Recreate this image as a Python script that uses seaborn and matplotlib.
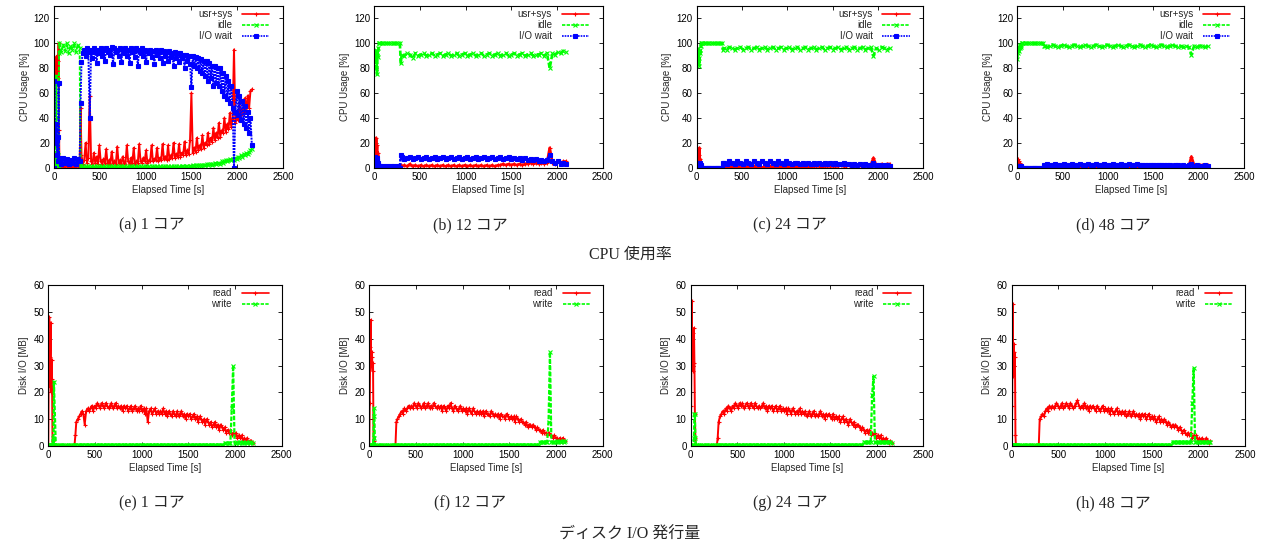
import matplotlib
matplotlib.use("Agg")
import matplotlib.pyplot as plt
import seaborn as sns

# ---------------- data ----------------
TIMES_START = [0, 5, 10, 15, 20, 25, 30, 35, 40, 45, 50, 55,
               60, 80, 100, 120, 140, 160, 180, 200, 220, 240, 260, 280,
               290]
# 30 s sampling for the flat series
TIMES_RUN = [300, 330, 360, 390, 420, 450, 480, 510, 540, 570,
             600, 630, 660, 690, 720, 750, 780, 810, 840, 870,
             900, 930, 960, 990, 1020, 1050, 1080, 1110, 1140, 1170,
             1200, 1230, 1260, 1290, 1320, 1350, 1380, 1410, 1440, 1470,
             1500, 1530, 1560, 1590, 1620, 1650, 1680, 1710, 1740, 1770,
             1800, 1830, 1860, 1890, 1920, 1950, 1980, 2010, 2040, 2070,
             2100, 2130, 2160, 2190]
# 15 s sampling for the noisy series
TIMES_RUN_FINE = [300, 315, 330, 345, 360, 375, 390, 405, 420, 435,
                  450, 465, 480, 495, 510, 525, 540, 555, 570, 585,
                  600, 615, 630, 645, 660, 675, 690, 705, 720, 735,
                  750, 765, 780, 795, 810, 825, 840, 855, 870, 885,
                  900, 915, 930, 945, 960, 975, 990, 1005, 1020, 1035,
                  1050, 1065, 1080, 1095, 1110, 1125, 1140, 1155, 1170, 1185,
                  1200, 1215, 1230, 1245, 1260, 1275, 1290, 1305, 1320, 1335,
                  1350, 1365, 1380, 1395, 1410, 1425, 1440, 1455, 1470, 1485,
                  1500, 1515, 1530, 1545, 1560, 1575, 1590, 1605, 1620, 1635,
                  1650, 1665, 1680, 1695, 1710, 1725, 1740, 1755, 1770, 1785,
                  1800, 1815, 1830, 1845, 1860, 1875, 1890, 1905, 1920, 1935,
                  1950, 1965, 1980, 1995, 2010, 2025, 2040, 2055, 2070, 2085,
                  2100, 2115, 2130, 2145, 2160, 2175, 2190]
TIMES = TIMES_START + TIMES_RUN
TIMES_FINE = TIMES_START + TIMES_RUN_FINE

# (a) 1 core  (fine grid)
A_USR = [0, 75, 88, 70, 85, 68, 90, 80, 86, 72, 100, 30,
         1, 0, 1, 0, 1, 0, 1, 0, 1, 0, 1, 0,
         48,
         10, 3, 6, 20, 4, 8, 58, 5, 3, 12,
         4, 9, 3, 18, 5, 3, 7, 4, 15, 3,
         6, 3, 13, 4, 5, 3, 17, 4, 6, 3,
         9, 4, 3, 18, 5, 3, 8, 4, 16, 3,
         5, 4, 19, 5, 4, 8, 5, 14, 4, 6,
         5, 18, 5, 7, 6, 16, 5, 8, 6, 19,
         7, 9, 6, 18, 7, 10, 8, 20, 8, 11,
         9, 19, 9, 12, 10, 21, 10, 14, 11, 22,
         60, 12, 16, 13, 24, 14, 18, 15, 26, 16,
         20, 18, 28, 19, 24, 21, 32, 22, 28, 24,
         36, 25, 30, 28, 40, 29, 35, 31, 44, 33,
         40, 95, 36, 44, 38, 52, 42, 48, 44, 56,
         45, 58, 48, 62, 63]
A_IDLE = [0, 5, 2, 8, 3, 74, 6, 2, 4, 10, 0, 92,
          100, 93, 99, 94, 100, 92, 98, 95, 100, 93, 99, 96,
          2,
          0, 1, 0, 1, 0, 1, 0, 1, 0, 1,
          0, 1, 0, 1, 0, 1, 0, 1, 0, 1,
          0, 1, 0, 1, 0, 1, 0, 1, 0, 1,
          0, 1, 0, 1, 0, 1, 0, 1, 0, 1,
          0, 1, 0, 1, 0, 1, 0, 1, 0, 1,
          0, 1, 0, 1, 0, 1, 0, 1, 0, 1,
          0, 1, 0, 1, 0, 1, 0, 1, 0, 1,
          0, 1, 0, 1, 1, 0, 1, 1, 0, 1,
          1, 2, 1, 2, 1, 2, 2, 1, 2, 2,
          2, 3, 2, 3, 3, 2, 3, 4, 3, 4,
          4, 3, 5, 4, 5, 6, 5, 6, 7, 6,
          7, 6, 8, 7, 9, 8, 10, 9, 11, 10,
          12, 11, 13, 14, 15]
A_IOWAIT = [0, 70, 30, 25, 20, 35, 22, 10, 25, 5, 68, 8,
            5, 3, 8, 4, 7, 3, 6, 4, 8, 3, 7, 5,
            52,
            85, 92, 95, 90, 96, 93, 40, 95, 88, 96,
            93, 84, 95, 92, 96, 90, 95, 86, 96, 93,
            95, 91, 97, 83, 96, 93, 95, 90, 96, 85,
            95, 92, 96, 90, 95, 84, 96, 93, 95, 89,
            96, 82, 95, 92, 96, 90, 95, 85, 94, 92,
            95, 89, 94, 83, 95, 91, 94, 88, 95, 84,
            94, 90, 93, 86, 94, 89, 92, 82, 93, 88,
            92, 85, 92, 88, 91, 80, 91, 86, 90, 83,
            65, 90, 82, 89, 80, 88, 78, 87, 76, 86,
            74, 86, 70, 84, 72, 82, 66, 82, 68, 80,
            66, 80, 62, 76, 58, 74, 55, 70, 52, 66,
            48, 0, 45, 62, 42, 58, 38, 54, 35, 50,
            32, 45, 28, 40, 18]

# (b) 12 cores
B_USR = [0, 8, 15, 5, 24, 10, 18, 6, 12, 3, 1, 0,
         0, 0, 0, 0, 0, 0, 0, 0, 0, 0, 0, 0,
         2,
         1, 2, 1, 3, 1, 2, 1, 2, 1, 2,
         1, 2, 1, 2, 1, 2, 1, 2, 1, 2,
         1, 2, 1, 2, 1, 2, 1, 2, 1, 2,
         1, 2, 1, 2, 1, 2, 2, 3, 2, 3,
         2, 3, 2, 3, 2, 3, 3, 4, 3, 4,
         3, 4, 3, 4, 16, 4, 3, 5, 4, 5,
         5]
B_IDLE = [86, 92, 88, 95, 80, 90, 75, 93, 89, 96, 100, 100,
          100, 100, 100, 100, 100, 100, 100, 100, 100, 100, 100, 100,
          84,
          91, 90, 92, 91, 88, 92, 90, 91, 92, 90,
          91, 92, 90, 91, 92, 90, 91, 92, 90, 91,
          92, 90, 91, 92, 90, 91, 92, 90, 91, 92,
          90, 91, 92, 90, 91, 92, 90, 91, 92, 90,
          91, 92, 90, 91, 92, 90, 91, 92, 90, 91,
          91, 92, 90, 92, 80, 92, 91, 93, 92, 94,
          93]
B_IOWAIT = [0, 9, 4, 6, 2, 8, 3, 5, 2, 4, 1, 0,
            1, 0, 1, 0, 1, 0, 1, 0, 1, 0, 1, 0,
            10,
            9, 7, 8, 9, 7, 8, 9, 7, 8, 9,
            7, 8, 9, 7, 8, 9, 7, 8, 9, 7,
            8, 9, 7, 8, 9, 7, 8, 9, 7, 8,
            9, 7, 8, 9, 7, 8, 9, 7, 8, 9,
            7, 8, 7, 8, 6, 8, 6, 7, 6, 7,
            5, 6, 5, 6, 10, 5, 4, 5, 3, 4,
            3]

# (c) 24 cores
C_USR = [0, 5, 8, 3, 10, 6, 16, 4, 7, 2, 1, 0,
         0, 0, 0, 0, 0, 0, 0, 0, 0, 0, 0, 0,
         1,
         0, 1, 0, 1, 0, 1, 0, 1, 0, 1,
         0, 1, 0, 1, 0, 1, 0, 1, 0, 1,
         0, 1, 0, 1, 0, 1, 0, 1, 0, 1,
         0, 1, 0, 1, 1, 1, 0, 1, 1, 1,
         1, 1, 1, 2, 1, 1, 2, 1, 2, 1,
         2, 1, 2, 2, 2, 8, 2, 2, 3, 2,
         3, 3]
C_IDLE = [95, 87, 96, 90, 94, 88, 82, 95, 92, 98, 100, 100,
          100, 100, 100, 100, 100, 100, 100, 100, 100, 100, 100, 100,
          95,
          96, 95, 97, 96, 95, 96, 97, 95, 96, 97,
          95, 96, 97, 95, 96, 97, 95, 96, 97, 95,
          96, 97, 95, 96, 97, 95, 96, 97, 95, 96,
          97, 95, 96, 97, 95, 96, 97, 95, 96, 97,
          95, 96, 97, 95, 96, 97, 95, 96, 97, 95,
          96, 97, 95, 96, 97, 90, 96, 95, 97, 96,
          95, 96]
C_IOWAIT = [0, 4, 2, 3, 1, 3, 2, 4, 1, 2, 0, 0,
            0, 0, 0, 0, 0, 0, 0, 0, 0, 0, 0, 0,
            4,
            4, 3, 5, 4, 3, 5, 4, 3, 5, 4,
            3, 5, 4, 3, 5, 4, 3, 5, 4, 3,
            5, 4, 3, 5, 4, 3, 4, 4, 3, 4,
            3, 4, 3, 4, 3, 4, 3, 4, 3, 4,
            3, 4, 3, 3, 4, 3, 3, 2, 3, 2,
            3, 2, 3, 2, 2, 4, 2, 2, 1, 2,
            2, 1]

# (d) 48 cores
D_USR = [0, 7, 3, 5, 2, 4, 1, 3, 1, 2, 0, 0,
         0, 0, 0, 0, 0, 0, 0, 0, 0, 0, 0, 0,
         1,
         0, 1, 0, 0, 1, 0, 0, 1, 0, 0,
         1, 0, 0, 1, 0, 0, 1, 0, 0, 1,
         0, 0, 1, 0, 0, 1, 0, 0, 1, 0,
         0, 1, 0, 0, 1, 0, 0, 1, 0, 0,
         1, 0, 1, 0, 1, 0, 1, 1, 0, 1,
         1, 1, 1, 1, 9, 2, 2, 2, 2, 2,
         2]
D_IDLE = [87, 95, 92, 97, 94, 98, 96, 99, 97, 99, 100, 100,
          100, 100, 100, 100, 100, 100, 100, 100, 100, 100, 100, 100,
          98,
          98, 97, 98, 99, 98, 97, 98, 99, 98, 97,
          98, 99, 98, 97, 98, 99, 98, 97, 98, 99,
          98, 97, 98, 99, 98, 97, 98, 99, 98, 97,
          98, 99, 98, 97, 98, 99, 98, 97, 98, 99,
          98, 97, 98, 99, 98, 97, 98, 99, 98, 97,
          98, 97, 98, 97, 91, 98, 97, 98, 98, 97,
          98]
D_IOWAIT = [0, 1, 0, 1, 0, 1, 0, 1, 0, 1, 0, 0,
            0, 0, 0, 0, 0, 0, 0, 0, 0, 0, 0, 0,
            2,
            2, 3, 2, 2, 3, 2, 2, 3, 2, 2,
            3, 2, 2, 3, 2, 2, 3, 2, 2, 3,
            2, 2, 3, 2, 2, 3, 2, 2, 3, 2,
            2, 3, 2, 2, 3, 2, 2, 2, 2, 2,
            2, 2, 2, 2, 2, 2, 2, 1, 2, 2,
            1, 2, 1, 2, 3, 1, 2, 1, 1, 2,
            1]

# (e) 1 core disk  (fine grid)
E_READ = [0, 30, 48, 22, 33, 46, 20, 32, 25, 2, 0, 0,
          0, 0, 0, 0, 0, 0, 0, 0, 0, 0, 0, 0,
          4,
          9, 10, 11, 12, 13, 12, 8, 13, 14, 13,
          14, 15, 13, 15, 14, 16, 15, 14, 16, 15,
          14, 16, 15, 14, 15, 16, 14, 15, 16, 14,
          15, 14, 15, 13, 15, 14, 15, 13, 14, 15,
          13, 14, 15, 13, 14, 13, 15, 13, 14, 12,
          14, 9, 13, 14, 12, 13, 14, 12, 13, 12,
          13, 12, 14, 12, 13, 11, 13, 12, 11, 13,
          12, 11, 13, 11, 12, 13, 11, 12, 10, 12,
          11, 12, 10, 11, 12, 10, 11, 9, 11, 10,
          9, 10, 8, 10, 9, 8, 9, 7, 8, 9,
          7, 8, 6, 8, 7, 6, 7, 5, 6, 5,
          6, 4, 5, 4, 5, 3, 4, 3, 4, 2,
          3, 2, 3, 1, 2, 2, 1]
E_WRITE = [0, 0.5, 0.5, 0.5, 0.5, 0.5, 0.5, 0.5, 0.5, 0.5, 3, 0.5,
           24, 0.5, 0.5, 0.5, 0.5, 0.5, 0.5, 0.5, 0.5, 0.5, 0.5, 0.5,
           0.5,
           0.5, 0.5, 0.5, 0.5, 0.5, 0.5, 0.5, 0.5, 0.5, 0.5,
           0.5, 0.5, 0.5, 0.5, 0.5, 0.5, 0.5, 0.5, 0.5, 0.5,
           0.5, 0.5, 0.5, 0.5, 0.5, 0.5, 0.5, 0.5, 0.5, 0.5,
           0.5, 0.5, 0.5, 0.5, 0.5, 0.5, 0.5, 0.5, 0.5, 0.5,
           0.5, 0.5, 0.5, 0.5, 0.5, 0.5, 0.5, 0.5, 0.5, 0.5,
           0.5, 0.5, 0.5, 0.5, 0.5, 0.5, 0.5, 0.5, 0.5, 0.5,
           0.5, 0.5, 0.5, 0.5, 0.5, 0.5, 0.5, 0.5, 0.5, 0.5,
           0.5, 0.5, 0.5, 0.5, 0.5, 0.5, 0.5, 0.5, 0.5, 0.5,
           0.5, 0.5, 0.5, 0.5, 0.5, 0.5, 0.5, 0.5, 0.5, 0.5,
           0.5, 0.5, 0.5, 0.5, 0.5, 0.5, 0.5, 0.5, 0.5, 0.5,
           0.5, 0.5, 0.5, 0.5, 0.5, 0.5, 1, 1, 1, 1,
           1, 14, 30, 1, 1, 1.5, 1, 1.5, 1, 1.5,
           1, 1.5, 1, 1.5, 1, 1.5, 1]

# (f) 12 cores disk
F_READ = [0, 16, 37, 47, 30, 35, 33, 28, 31, 2, 0, 0,
          0, 0, 0, 0, 0, 0, 0, 0, 0, 0, 0, 0,
          9,
          10, 11, 12, 13, 12, 14, 13, 14, 15, 14,
          15, 14, 16, 15, 14, 16, 15, 14, 15, 16,
          14, 15, 16, 14, 15, 14, 16, 15, 14, 15,
          14, 15, 13, 15, 14, 13, 15, 14, 16, 14,
          13, 15, 14, 13, 14, 15, 13, 14, 13, 14,
          12, 14, 13, 12, 14, 13, 12, 13, 12, 13,
          12, 13, 11, 13, 12, 12, 11, 13, 12, 11,
          12, 11, 12, 10, 12, 11, 11, 10, 12, 11,
          10, 11, 10, 11, 9, 11, 10, 9, 10, 9,
          9, 8, 9, 7, 8, 8, 7, 8, 7, 6,
          7, 6, 6, 5, 6, 5, 5, 4, 5, 4,
          4, 3, 4, 3, 3, 2, 3, 2, 3, 2,
          2]
F_WRITE = [0, 0.5, 0.5, 0.5, 0.5, 0.5, 0.5, 0.5, 0.5, 3, 14, 11,
           0.5, 0.5, 0.5, 0.5, 0.5, 0.5, 0.5, 0.5, 0.5, 0.5, 0.5, 0.5,
           0.5,
           0.5, 0.5, 0.5, 0.5, 0.5, 0.5, 0.5, 0.5, 0.5, 0.5,
           0.5, 0.5, 0.5, 0.5, 0.5, 0.5, 0.5, 0.5, 0.5, 0.5,
           0.5, 0.5, 0.5, 0.5, 0.5, 0.5, 0.5, 0.5, 0.5, 0.5,
           0.5, 0.5, 0.5, 0.5, 0.5, 0.5, 0.5, 0.5, 0.5, 0.5,
           0.5, 0.5, 0.5, 0.5, 0.5, 0.5, 0.5, 0.5, 0.5, 0.5,
           0.5, 0.5, 0.5, 0.5, 0.5, 0.5, 0.5, 0.5, 0.5, 0.5,
           0.5, 0.5, 0.5, 0.5, 0.5, 0.5, 0.5, 0.5, 0.5, 0.5,
           0.5, 0.5, 0.5, 0.5, 0.5, 0.5, 0.5, 0.5, 0.5, 0.5,
           0.5, 0.5, 0.5, 0.5, 0.5, 0.5, 0.5, 0.5, 0.5, 0.5,
           0.5, 0.5, 0.5, 0.5, 0.5, 0.5, 0.5, 0.5, 0.5, 0.5,
           0.5, 0.5, 1.5, 1.5, 1.5, 1.5, 1.5, 1.5, 9, 35,
           1.5, 1.5, 1.5, 1.5, 2, 1.5, 2, 1.5, 2, 1.5,
           2]

# (g) 24 cores disk
G_READ = [0, 15, 54, 38, 30, 42, 28, 44, 31, 12, 3, 0,
          0, 0, 0, 0, 0, 0, 0, 0, 0, 0, 0, 0,
          3,
          9, 11, 12, 13, 12, 14, 13, 15, 14, 13,
          15, 14, 16, 15, 14, 16, 15, 16, 14, 15,
          16, 15, 14, 16, 15, 14, 16, 15, 14, 15,
          14, 15, 16, 14, 15, 13, 15, 14, 15, 13,
          14, 15, 13, 14, 15, 13, 14, 13, 14, 12,
          14, 13, 12, 14, 13, 12, 13, 12, 14, 12,
          13, 12, 13, 11, 12, 13, 11, 12, 13, 11,
          12, 11, 12, 13, 11, 12, 10, 12, 11, 12,
          11, 10, 12, 10, 11, 10, 11, 9, 10, 11,
          9, 10, 9, 8, 10, 9, 8, 9, 7, 8,
          8, 7, 6, 7, 6, 5, 6, 5, 6, 4,
          5, 4, 5, 3, 4, 3, 4, 2, 3, 2,
          3, 2, 1, 2, 1]
G_WRITE = [0, 0.5, 0.5, 0.5, 0.5, 0.5, 0.5, 3, 12, 12, 3, 0.5,
           0.5, 0.5, 0.5, 0.5, 0.5, 0.5, 0.5, 0.5, 0.5, 0.5, 0.5, 0.5,
           0.5,
           0.5, 0.5, 0.5, 0.5, 0.5, 0.5, 0.5, 0.5, 0.5, 0.5,
           0.5, 0.5, 0.5, 0.5, 0.5, 0.5, 0.5, 0.5, 0.5, 0.5,
           0.5, 0.5, 0.5, 0.5, 0.5, 0.5, 0.5, 0.5, 0.5, 0.5,
           0.5, 0.5, 0.5, 0.5, 0.5, 0.5, 0.5, 0.5, 0.5, 0.5,
           0.5, 0.5, 0.5, 0.5, 0.5, 0.5, 0.5, 0.5, 0.5, 0.5,
           0.5, 0.5, 0.5, 0.5, 0.5, 0.5, 0.5, 0.5, 0.5, 0.5,
           0.5, 0.5, 0.5, 0.5, 0.5, 0.5, 0.5, 0.5, 0.5, 0.5,
           0.5, 0.5, 0.5, 0.5, 0.5, 0.5, 0.5, 0.5, 0.5, 0.5,
           0.5, 0.5, 0.5, 0.5, 0.5, 0.5, 0.5, 0.5, 0.5, 0.5,
           0.5, 0.5, 0.5, 0.5, 0.5, 0.5, 0.5, 0.5, 0.5, 0.5,
           0.5, 0.5, 0.5, 0.5, 1.5, 1.5, 1.5, 1.5, 1.5, 1.5,
           19, 26, 1.5, 1.5, 1.5, 1.5, 1.5, 1.5, 1.5, 1.5,
           1.5, 1.5, 1.5, 1.5, 1]

# (h) 48 cores disk
H_READ = [0, 15, 53, 26, 38, 30, 35, 33, 4, 0, 0, 0,
          0, 0, 0, 0, 0, 0, 0, 0, 0, 0, 0, 0,
          0,
          10, 11, 12, 11, 13, 14, 13, 15, 14, 15,
          14, 15, 16, 15, 14, 15, 16, 14, 15, 16,
          15, 14, 16, 15, 14, 15, 16, 17, 15, 14,
          15, 14, 16, 14, 15, 13, 15, 14, 15, 14,
          13, 15, 14, 13, 14, 15, 13, 14, 13, 14,
          12, 14, 13, 12, 13, 14, 12, 13, 12, 13,
          12, 13, 11, 12, 13, 11, 12, 13, 11, 12,
          11, 12, 10, 12, 11, 12, 10, 11, 12, 10,
          11, 10, 11, 9, 10, 11, 9, 10, 9, 10,
          9, 8, 9, 8, 7, 8, 7, 8, 7, 6,
          7, 6, 5, 6, 5, 4, 5, 4, 5, 3,
          4, 3, 4, 2, 3, 2, 3, 2, 2, 3,
          2, 1, 2]
H_WRITE = [0, 0.5, 0.5, 0.5, 0.5, 0.5, 0.5, 0.5, 0.5, 0.5, 0.5, 0.5,
           0.5, 0.5, 0.5, 0.5, 0.5, 0.5, 0.5, 0.5, 0.5, 0.5, 0.5, 0.5,
           0.5,
           0.5, 0.5, 0.5, 0.5, 0.5, 0.5, 0.5, 0.5, 0.5, 0.5,
           0.5, 0.5, 0.5, 0.5, 0.5, 0.5, 0.5, 0.5, 0.5, 0.5,
           0.5, 0.5, 0.5, 0.5, 0.5, 0.5, 0.5, 0.5, 0.5, 0.5,
           0.5, 0.5, 0.5, 0.5, 0.5, 0.5, 0.5, 0.5, 0.5, 0.5,
           0.5, 0.5, 0.5, 0.5, 0.5, 0.5, 0.5, 0.5, 0.5, 0.5,
           0.5, 0.5, 0.5, 0.5, 0.5, 0.5, 0.5, 0.5, 0.5, 0.5,
           0.5, 0.5, 0.5, 0.5, 0.5, 0.5, 0.5, 0.5, 0.5, 0.5,
           0.5, 0.5, 0.5, 0.5, 0.5, 0.5, 0.5, 0.5, 0.5, 0.5,
           0.5, 0.5, 0.5, 0.5, 0.5, 0.5, 0.5, 0.5, 0.5, 0.5,
           0.5, 0.5, 0.5, 0.5, 0.5, 1.5, 1.5, 1.5, 1.5, 1.5,
           1.5, 1.5, 1.5, 1.5, 1.5, 1.5, 1.5, 1.5, 1.5, 16,
           29, 1.5, 1.5, 1.5, 1.5, 1.5, 1.5, 1.5, 1.5, 1.5,
           1.5, 1.5, 1.5]

CPU_LABELS = ["usr+sys", "idle", "I/O wait"]
DISK_LABELS = ["read", "write"]
CPU_CAPTIONS = ["(a) 1 コア", "(b) 12 コア", "(c) 24 コア", "(d) 48 コア"]
DISK_CAPTIONS = ["(e) 1 コア", "(f) 12 コア", "(g) 24 コア", "(h) 48 コア"]
CPU_TITLE = "CPU 使用率"
DISK_TITLE = "ディスク I/O 発行量"
X_TICKS = [0, 500, 1000, 1500, 2000, 2500]
CPU_YTICKS = [0, 20, 40, 60, 80, 100, 120]
DISK_YTICKS = [0, 10, 20, 30, 40, 50, 60]

# ---------------- styling ----------------
sns.set_theme(style="ticks")
plt.rcParams["font.family"] = ["Liberation Sans", "Noto Sans CJK JP"]
SANS = ["Liberation Sans", "Noto Sans CJK JP"]
SERIF = ["Liberation Serif", "Noto Sans CJK JP"]

STYLE = {
    "usr+sys": dict(color="#ff0000", linestyle="-", marker="+", markersize=3.5),
    "idle": dict(color="#00ff00", linestyle=(0, (2, 0.8)), marker="x", markersize=2.8),
    "I/O wait": dict(color="#0000ff", linestyle=(0, (1, 0.6)), marker="s", markersize=2.2),
    "read": dict(color="#ff0000", linestyle="-", marker="+", markersize=3.5),
    "write": dict(color="#00ff00", linestyle=(0, (2, 0.8)), marker="x", markersize=2.8),
}

W, H = 1261, 549
fig = plt.figure(figsize=(W / 100, H / 100), dpi=100)

cpu_boxes = [(54, 283), (374.3, 602.7), (696.7, 923.3), (1017.3, 1244)]
disk_boxes = [(48.3, 281.7), (369.3, 602.7), (690.7, 923.3), (1011.7, 1245)]
cpu_tb = (6, 167.7)
disk_tb = (285, 446)


def make_ax(box, tb):
    l, r = box
    t, b = tb
    return fig.add_axes([l / W, 1 - b / H, (r - l) / W, (b - t) / H])


def draw(ax, names, series, ylim, yticks, ylabel, legend_anchor):
    for name, (vals, grid) in zip(names, series):
        st = STYLE[name]
        fine = grid is TIMES_FINE
        lw = 1.4 if fine else 1.9
        if name == "write":
            lw = 1.6
        sns.lineplot(x=grid[:len(vals)], y=vals, ax=ax, estimator=None, sort=False,
                     color=st["color"], linestyle=st["linestyle"], marker=st["marker"],
                     markersize=st["markersize"], markeredgecolor=st["color"],
                     markerfacecolor=st["color"], markeredgewidth=0.8,
                     linewidth=lw, label=name)
    ax.set_xlim(0, 2500)
    ax.set_ylim(*ylim)
    ax.set_xticks(X_TICKS)
    ax.set_yticks(yticks)
    ax.set_xlabel("Elapsed Time [s]", fontsize=7, labelpad=2, family=SANS)
    ax.set_ylabel(ylabel, fontsize=7, labelpad=3, family=SANS)
    ax.tick_params(direction="in", top=True, right=True, length=3, width=0.6,
                   labelsize=7, pad=3, colors="black")
    for sp in ax.spines.values():
        sp.set_visible(True)
        sp.set_linewidth(0.8)
        sp.set_color("black")
    leg = ax.legend(loc="upper right", bbox_to_anchor=legend_anchor, frameon=False,
                    markerfirst=False, numpoints=1, fontsize=7, handlelength=2.8,
                    handletextpad=1.0, labelspacing=0.1, borderpad=0, borderaxespad=0)
    for line in leg.get_lines():
        line.set_linewidth(1.2)


F, C = TIMES_FINE, TIMES
cpu_series = [((A_USR, F), (A_IDLE, F), (A_IOWAIT, F)),
              ((B_USR, C), (B_IDLE, C), (B_IOWAIT, C)),
              ((C_USR, C), (C_IDLE, C), (C_IOWAIT, C)),
              ((D_USR, C), (D_IDLE, C), (D_IOWAIT, C))]
disk_series = [((E_READ, F), (E_WRITE, F)), ((F_READ, F), (F_WRITE, F)),
               ((G_READ, F), (G_WRITE, F)), ((H_READ, F), (H_WRITE, F))]

for box, ser in zip(cpu_boxes, cpu_series):
    ax = make_ax(box, cpu_tb)
    draw(ax, CPU_LABELS, ser, (0, 130), CPU_YTICKS, "CPU Usage [%]", (0.94, 0.98))

for box, ser in zip(disk_boxes, disk_series):
    ax = make_ax(box, disk_tb)
    draw(ax, DISK_LABELS, ser, (0, 60), DISK_YTICKS, "Disk I/O [MB]", (0.945, 0.98))

cap_x = [152, 470, 790, 1113]
for x, c in zip(cap_x, CPU_CAPTIONS):
    fig.text(x / W, 1 - 225 / H, c, ha="center", va="center", fontsize=11.5, family=SERIF)
for x, c in zip(cap_x, DISK_CAPTIONS):
    fig.text(x / W, 1 - 503 / H, c, ha="center", va="center", fontsize=11.5, family=SERIF)
fig.text(630 / W, 1 - 255 / H, CPU_TITLE, ha="center", va="center", fontsize=11.5, family=SERIF)
fig.text(630 / W, 1 - 535 / H, DISK_TITLE, ha="center", va="center", fontsize=11.5, family=SERIF)

fig.savefig("out.png", dpi=100, facecolor="white")
